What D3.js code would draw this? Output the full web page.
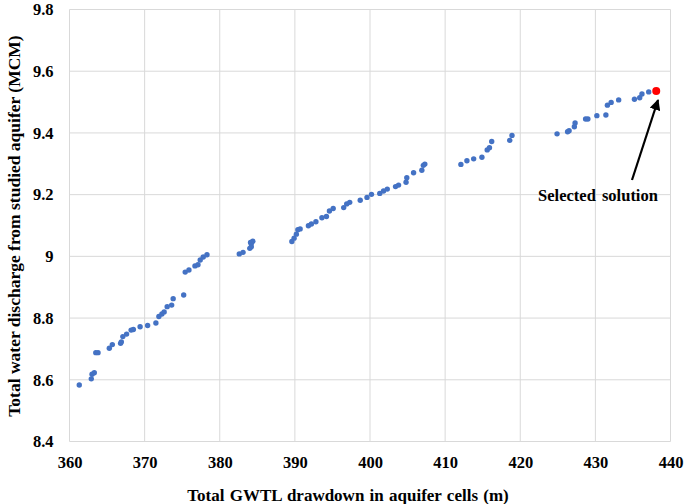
<!DOCTYPE html>
<html>
<head>
<meta charset="utf-8">
<script src="https://cdn.jsdelivr.net/npm/d3@7"></script>
<style>
  body { margin: 0; background: #fff; }
  text { font-family: "Liberation Serif", "Times New Roman", serif; font-weight: bold; fill: #000; }
</style>
</head>
<body>
<svg width="685" height="504"></svg>
<script>
// drawdown (m) per solution
const drawdown = [361.3,362.9,363.0,363.3,363.5,363.8,365.3,365.7,366.8,366.9,367.1,367.6,368.2,368.5,369.4,370.4,371.5,371.9,372.3,372.6,
  373.0,373.6,373.8,375.2,375.4,375.9,376.7,377.1,377.4,377.8,378.3,382.6,383.1,384.0,384.2,384.2,384.4,384.1,389.6,389.9,
  390.2,390.4,390.7,391.8,392.2,392.8,393.6,394.2,394.6,395.1,396.5,396.9,397.3,398.7,399.6,400.2,401.3,401.8,402.3,403.4,
  403.8,404.8,404.9,405.8,406.9,407.1,407.3,412.1,412.9,413.8,414.9,415.6,415.9,416.2,418.6,418.9,424.9,426.3,426.5,427.2,
  427.3,428.7,429.0,430.2,431.4,431.6,432.1,433.1,435.2,435.9,436.2,437.1];
// discharge (MCM) per solution
const discharge = [8.583,8.603,8.618,8.623,8.688,8.688,8.702,8.714,8.718,8.723,8.740,8.748,8.761,8.763,8.772,8.776,8.784,8.805,8.813,8.820,
  8.837,8.842,8.863,8.875,8.949,8.956,8.969,8.973,8.988,8.998,9.005,9.008,9.013,9.026,9.031,9.042,9.049,9.045,9.048,9.059,
  9.072,9.086,9.089,9.099,9.105,9.112,9.125,9.129,9.147,9.155,9.158,9.170,9.175,9.182,9.191,9.201,9.204,9.212,9.218,9.226,
  9.231,9.240,9.255,9.271,9.279,9.295,9.299,9.298,9.310,9.316,9.321,9.345,9.352,9.372,9.376,9.392,9.397,9.404,9.407,9.420,
  9.432,9.445,9.445,9.456,9.458,9.490,9.499,9.507,9.509,9.514,9.526,9.533];
const selected = [438.1, 9.536];
const xTicks = [360,370,380,390,400,410,420,430,440];
const yTicks = [8.4,8.6,8.8,9.0,9.2,9.4,9.6,9.8];

const svg = d3.select('svg');
const x = d3.scaleLinear().domain([360,440]).range([69.5,670.5]);
const y = d3.scaleLinear().domain([8.4,9.8]).range([441.5,9.5]);

// grid
svg.append('g').selectAll('line').data(xTicks).join('line')
  .attr('x1', d => x(d)).attr('x2', d => x(d))
  .attr('y1', y(9.8)).attr('y2', y(8.4))
  .attr('stroke', '#d9d9d9').attr('stroke-width', 1);
svg.append('g').selectAll('line').data(yTicks).join('line')
  .attr('y1', d => y(d)).attr('y2', d => y(d))
  .attr('x1', x(360)).attr('x2', x(440))
  .attr('stroke', '#d9d9d9').attr('stroke-width', 1);

// axes (labels only)
const xAxis = svg.append('g')
  .attr('transform', `translate(0,${y(8.4)})`)
  .call(d3.axisBottom(x).tickValues(xTicks).tickSize(0).tickPadding(15).tickFormat(d3.format('d')));
const yAxis = svg.append('g')
  .attr('transform', `translate(${x(360)},0)`)
  .call(d3.axisLeft(y).tickValues(yTicks).tickSize(0).tickPadding(16).tickFormat(d3.format('.1~f')));
[xAxis, yAxis].forEach(g => {
  g.select('.domain').remove();
  g.selectAll('text').attr('font-size', 16.5).attr('font-family', '"Liberation Serif", serif').attr('font-weight', 'bold').attr('fill', '#000');
});

// points
svg.append('g').selectAll('circle').data(drawdown).join('circle')
  .attr('cx', d => x(d))
  .attr('cy', (d, i) => y(discharge[i]))
  .attr('r', 2.7)
  .attr('fill', '#4472c4');
svg.append('circle')
  .attr('cx', x(selected[0])).attr('cy', y(selected[1]))
  .attr('r', 4).attr('fill', '#ff0000');

// annotation
svg.append('defs').append('marker')
  .attr('id', 'arr').attr('viewBox', '0 0 10 10')
  .attr('refX', 9).attr('refY', 5)
  .attr('markerWidth', 5).attr('markerHeight', 5)
  .attr('orient', 'auto')
  .append('path').attr('d', 'M0,0L10,5L0,10z').attr('fill', '#000');
svg.append('line')
  .attr('x1', 632).attr('y1', 180).attr('x2', 658).attr('y2', 100)
  .attr('stroke', '#000').attr('stroke-width', 2.2)
  .attr('marker-end', 'url(#arr)');
svg.append('text')
  .attr('x', 598).attr('y', 201)
  .attr('text-anchor', 'middle').attr('font-size', 16.5)
  .attr('word-spacing', 2)
  .text('Selected solution');

// axis titles
svg.append('text')
  .attr('x', 348).attr('y', 501)
  .attr('text-anchor', 'middle').attr('font-size', 17)
  .attr('word-spacing', 1)
  .text('Total GWTL drawdown in aquifer cells (m)');
svg.append('text')
  .attr('transform', 'translate(20,226) rotate(-90)')
  .attr('text-anchor', 'middle').attr('font-size', 17.5)
  .text('Total water discharge from studied aquifer (MCM)');
</script>
</body>
</html>
